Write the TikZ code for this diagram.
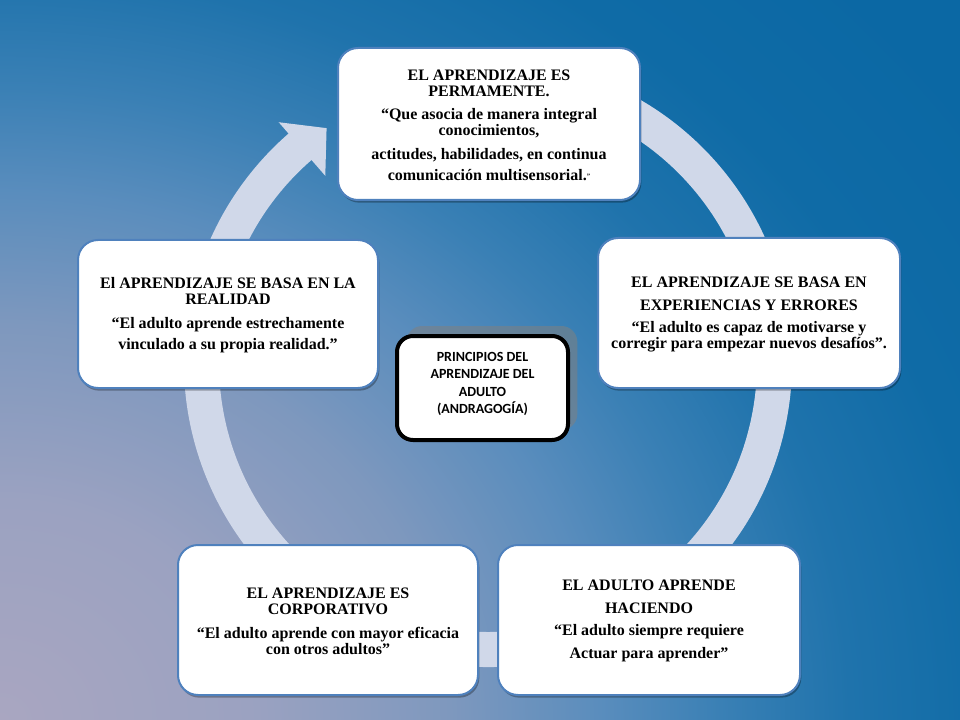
\documentclass[tikz,border=0pt]{standalone}
\usepackage{fontspec}
\setmainfont{Liberation Serif}
\newfontfamily\calfont{Carlito}
\usetikzlibrary{shadows,calc}
\definecolor{ringc}{HTML}{D0D8E9}
\definecolor{boxborder}{HTML}{4F81BD}
\definecolor{bgz}{HTML}{A9A6C1}
\definecolor{bga}{HTML}{9BA2C1}
\definecolor{bgb}{HTML}{7E98BE}
\definecolor{bgc}{HTML}{5A8DBD}
\definecolor{bgd}{HTML}{3A80B5}
\definecolor{bge}{HTML}{1F73AC}
\definecolor{bgf}{HTML}{0F6BA6}
\definecolor{bgg}{HTML}{0B68A4}
\pgfdeclareradialshading{bgrad}{\pgfpoint{0bp}{0bp}}{color(0bp)=(bgz); color(5.21bp)=(bga); color(9.375bp)=(bgb); color(12.5bp)=(bgc); color(15bp)=(bgd); color(17.7bp)=(bge); color(20.83bp)=(bgf); color(25bp)=(bgg); color(50bp)=(bgg)}
\begin{document}
\begin{tikzpicture}[x=0.75pt,y=-0.75pt,
  cbox/.style={draw=boxborder, line width=1.5pt, fill=white, rounded corners=15pt,
    drop shadow={shadow xshift=1pt, shadow yshift=-2pt, opacity=0.3, fill=black}},
  ctxt/.style={align=center, inner sep=0pt, font=\bfseries\fontsize{12}{12}\selectfont},
  centerbox/.style={draw=black, line width=3pt, fill=white, rounded corners=12pt,
    minimum width=128.25pt, minimum height=78pt,
    drop shadow={shadow xshift=7pt, shadow yshift=7.5pt, opacity=0.55, fill=gray}},
  centertext/.style={align=center, font=\calfont\bfseries\fontsize{10.5}{12.8}\selectfont}
]
\useasboundingbox (0,0) rectangle (960,720);
\fill[bgg] (0,0) rectangle (960,720);
\begin{scope}
  \clip (0,0) rectangle (960,720);
  \shade[shading=bgrad] (0,720) ellipse [x radius=1200, y radius=1054];
\end{scope}

% ring with arrow
\coordinate (C) at (488,363);
\fill[ringc] ($(C)+(-80:304)$) arc[start angle=-80, end angle=229, radius=304]
  -- ($(C)+(229:319)$) -- ($(C)+(235.5:285)$) -- ($(C)+(229:248)$)
  -- ($(C)+(229:269)$) arc[start angle=229, end angle=-80, radius=269] -- cycle;

% boxes
\node[cbox, minimum width=226.5pt, minimum height=114pt] (top) at (489,124) {};
\node[ctxt] (toptext) at ($(top.center)+(0,1)$) {%
EL APRENDIZAJE ES\\
PERMAMENTE.\\[5pt]
“Que asocia de manera integral\\
conocimientos,\\[6pt]
actitudes, habilidades, en continua\\[3.75pt]
comunicación multisensorial.\raisebox{1.5pt}{\tiny ”}};

\node[cbox, minimum width=226.5pt, minimum height=112.5pt] (right) at (749,313) {};
\node[ctxt] (righttext) at ($(right.center)+(0,1)$) {%
EL APRENDIZAJE SE BASA EN\\[5.25pt]
EXPERIENCIAS Y ERRORES\\[4.5pt]
“El adulto es capaz de motivarse y\\
corregir para empezar nuevos desafíos”.};

\node[cbox, minimum width=225pt, minimum height=111pt] (left) at (228,314) {};
\node[ctxt] (lefttext) at ($(left.center)+(0,1)$) {%
El APRENDIZAJE SE BASA EN LA\\
REALIDAD\\[6pt]
“El adulto aprende estrechamente\\[3.75pt]
vinculado a su propia realidad.”};

\node[cbox, minimum width=225pt, minimum height=112.5pt] (bl) at (328,620) {};
\node[ctxt] (bltext) at ($(bl.center)+(0,1)$) {%
EL APRENDIZAJE ES\\
CORPORATIVO\\[6pt]
“El adulto aprende con mayor eficacia\\
con otros adultos”};

\node[cbox, minimum width=226.5pt, minimum height=112.5pt] (br) at (649,620) {};
\node[ctxt] (brtext) at ($(br.center)+(0,1)$) {%
EL ADULTO APRENDE\\[5.25pt]
HACIENDO\\[4.5pt]
“El adulto siempre requiere\\[5.25pt]
Actuar para aprender”};

% center
\node[centerbox] (cbx) at (482.5,388) {};
\node[centertext] (ctext) at (482.5,384) {PRINCIPIOS DEL\\APRENDIZAJE DEL\\ADULTO\\(ANDRAGOGÍA)};
\end{tikzpicture}
\end{document}
